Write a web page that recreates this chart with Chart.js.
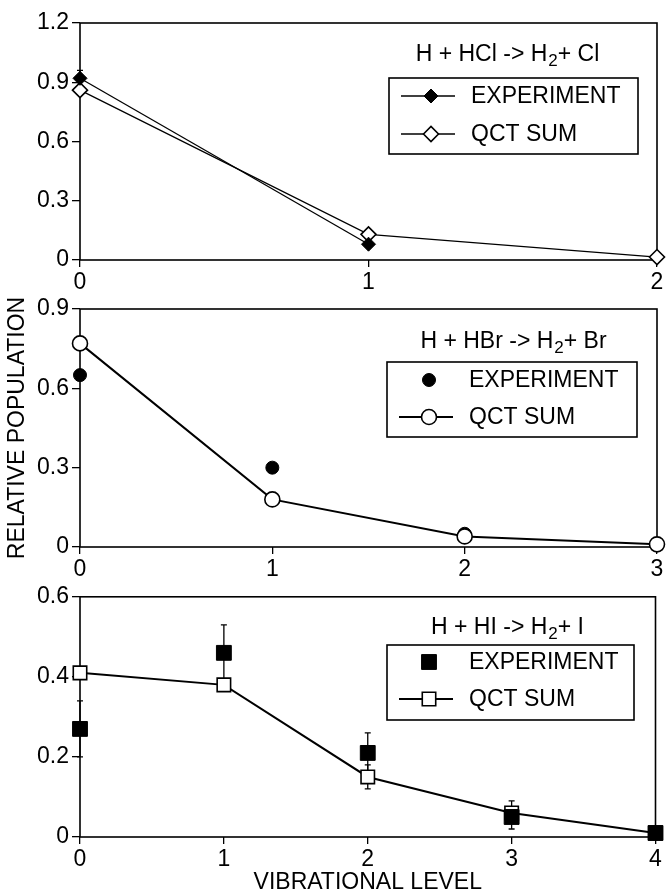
<!DOCTYPE html>
<html><head><meta charset="utf-8">
<script src="https://cdn.jsdelivr.net/npm/chart.js@4.4.1/dist/chart.umd.min.js"></script>
<style>
html,body{margin:0;padding:0;background:#fff;}
#wrap{position:relative;width:667px;height:896px;overflow:hidden;background:#fff;}
canvas{position:absolute;left:0;}
</style></head><body>
<div id="wrap">
<canvas id="c1" width="667" height="300" style="top:0px"></canvas>
<canvas id="c2" width="667" height="300" style="top:290px"></canvas>
<canvas id="c3" width="667" height="316" style="top:580px"></canvas>
</div>
<script>
// ---------- data ----------
const seriesLabels = ['EXPERIMENT', 'QCT SUM'];
const yAxisTitle = 'RELATIVE POPULATION';
const xAxisTitle = 'VIBRATIONAL LEVEL';

// H + HCl -> H2 + Cl
const hclTitle = ['H + HCl -> H', '2', '+ Cl'];
const hclLevels = [0, 1, 2];
const hclExperiment = [0.92, 0.08];
const hclExpLow = [0.88, null];
const hclExpHigh = [0.96, null];
const hclQct = [0.86, 0.13, 0.015];
const hclYTicks = [0, 0.3, 0.6, 0.9, 1.2];
const hclYTickLabels = ['0', '0.3', '0.6', '0.9', '1.2'];

// H + HBr -> H2 + Br
const hbrTitle = ['H + HBr -> H', '2', '+ Br'];
const hbrLevels = [0, 1, 2, 3];
const hbrExperiment = [0.65, 0.30, 0.05, 0.01];
const hbrQct = [0.77, 0.18, 0.04, 0.01];
const hbrYTicks = [0, 0.3, 0.6, 0.9];
const hbrYTickLabels = ['0', '0.3', '0.6', '0.9'];

// H + HI -> H2 + I
const hiTitle = ['H + HI -> H', '2', '+ I'];
const hiLevels = [0, 1, 2, 3, 4];
const hiExperiment = [0.27, 0.46, 0.21, 0.05, 0.01];
const hiExpLow = [0.20, 0.39, 0.16, 0.02, null];
const hiExpHigh = [0.34, 0.53, 0.26, 0.09, null];
const hiQct = [0.41, 0.38, 0.15, 0.06, 0.01];
const hiQctLow = [null, null, 0.12, null, null];
const hiQctHigh = [null, null, 0.18, null, null];
const hiYTicks = [0, 0.2, 0.4, 0.6];
const hiYTickLabels = ['0', '0.2', '0.4', '0.6'];

// ---------- rendering ----------
const FONT = "'Liberation Sans', Arial, Helvetica, sans-serif";
const FS = 23;

const pts = (levels, vals) => vals.map((v, i) => ({x: levels[i], y: v}));

const framePlugin = {
  id: 'frame',
  beforeDatasetsDraw(chart) {
    const {ctx, chartArea: a} = chart;
    ctx.save();
    ctx.strokeStyle = '#000';
    ctx.lineWidth = 1.6;
    ctx.strokeRect(a.left, a.top, a.right - a.left, a.bottom - a.top);
    ctx.restore();
  }
};

const errorBarPlugin = {
  id: 'errorBars',
  beforeDatasetsDraw(chart) {
    const {ctx} = chart;
    const xs = chart.scales.x, ys = chart.scales.y;
    ctx.save();
    ctx.strokeStyle = '#000';
    ctx.lineWidth = 1.3;
    chart.data.datasets.forEach(ds => {
      if (!ds.errLow) return;
      ds.data.forEach((p, i) => {
        const lo = ds.errLow[i], hi = ds.errHigh[i];
        if (lo == null || hi == null) return;
        const px = xs.getPixelForValue(p.x);
        const y1 = ys.getPixelForValue(lo), y2 = ys.getPixelForValue(hi);
        ctx.beginPath();
        ctx.moveTo(px, y1); ctx.lineTo(px, y2);
        ctx.moveTo(px - 3, y1); ctx.lineTo(px + 3, y1);
        ctx.moveTo(px - 3, y2); ctx.lineTo(px + 3, y2);
        ctx.stroke();
      });
    });
    ctx.restore();
  }
};

const legendPlugin = {
  id: 'panelLegend',
  afterDraw(chart, args, o) {
    const ctx = chart.ctx;
    const off = o.offset;
    ctx.save();
    ctx.fillStyle = '#000';
    ctx.strokeStyle = '#000';
    ctx.textBaseline = 'middle';
    ctx.textAlign = 'left';
    const subF = Math.round(FS * 0.74);
    ctx.font = `${FS}px ${FONT}`;
    const w1 = ctx.measureText(o.title[0]).width;
    const w3 = ctx.measureText(o.title[2]).width;
    ctx.font = `${subF}px ${FONT}`;
    const w2 = ctx.measureText(o.title[1]).width;
    let x = o.titleX - (w1 + w2 + w3) / 2;
    const ty = o.titleY - off;
    ctx.font = `${FS}px ${FONT}`;
    ctx.fillText(o.title[0], x, ty); x += w1 + 1;
    ctx.font = `${subF}px ${FONT}`;
    ctx.fillText(o.title[1], x, ty + 6); x += w2;
    ctx.font = `${FS}px ${FONT}`;
    ctx.fillText(o.title[2], x, ty);

    const b = o.box;
    ctx.lineWidth = 1.6;
    ctx.strokeRect(b[0], b[1] - off, b[2] - b[0], b[3] - b[1]);
    chart.data.datasets.forEach((ds, i) => {
      const ry = b[1] - off + o.rows[i];
      const l = b[0];
      ctx.strokeStyle = '#000';
      if (ds.showLine !== false) {
        ctx.lineWidth = ds.borderWidth;
        ctx.beginPath();
        ctx.moveTo(l + 12, ry); ctx.lineTo(l + 66, ry);
        ctx.stroke();
      }
      ctx.fillStyle = ds.pointBackgroundColor;
      ctx.strokeStyle = ds.pointBorderColor;
      ctx.lineWidth = ds.pointBorderWidth;
      Chart.helpers.drawPoint(ctx, {pointStyle: ds.pointStyle, radius: ds.pointRadius, rotation: 0, borderWidth: ds.pointBorderWidth}, l + 42, ry);
      ctx.fillStyle = '#000';
      ctx.font = `${FS}px ${FONT}`;
      ctx.fillText(ds.label, l + 82, ry + 1);
    });
    ctx.restore();
  }
};

function makeChart(id, cfg) {
  const tickFont = {family: FONT, size: FS};
  return new Chart(document.getElementById(id), {
    type: 'line',
    data: {datasets: cfg.datasets},
    options: {
      responsive: false,
      animation: false,
      devicePixelRatio: 1,
      layout: {padding: {top: cfg.padTop, right: 10, left: 0, bottom: 0}},
      plugins: {
        legend: {display: false},
        tooltip: {enabled: false},
        panelLegend: cfg.legend
      },
      scales: {
        x: {
          type: 'linear',
          min: 0, max: cfg.xMax,
          afterBuildTicks: s => { s.ticks = cfg.levels.map(v => ({value: v})); },
          ticks: {color: '#000', font: tickFont, padding: 2, maxRotation: 0, callback: v => String(v)},
          grid: {display: true, drawOnChartArea: false, drawTicks: true, tickLength: 7, color: '#000', lineWidth: 1.3},
          border: {display: false},
          title: cfg.xTitle ? {display: true, text: cfg.xTitle, color: '#000', font: tickFont, padding: {top: 0, bottom: 0}} : {display: false},
          afterFit: s => { s.height = cfg.xAxisH; }
        },
        y: {
          type: 'linear',
          min: 0, max: cfg.yTicks[cfg.yTicks.length - 1],
          afterBuildTicks: s => { s.ticks = cfg.yTicks.map(v => ({value: v})); },
          ticks: {color: '#000', font: tickFont, padding: 3, callback: (v, i) => cfg.yLabels[i]},
          grid: {display: true, drawOnChartArea: false, drawTicks: true, tickLength: 8, color: '#000', lineWidth: 1.3},
          border: {display: false},
          title: cfg.yTitle ? {display: true, text: cfg.yTitle, color: '#000', font: tickFont, padding: {top: 4, bottom: 0}} : {display: false},
          afterFit: s => { s.width = 80; }
        }
      }
    },
    plugins: [framePlugin, errorBarPlugin, legendPlugin]
  });
}

// Panel 1: HCl
makeChart('c1', {
  padTop: 23, xAxisH: 40, xMax: 2, levels: hclLevels,
  yTicks: hclYTicks, yLabels: hclYTickLabels,
  legend: {offset: 0, title: hclTitle, titleX: 507, titleY: 55, box: [389, 78, 638, 154], rows: [18, 56]},
  datasets: [
    {label: seriesLabels[0], data: pts(hclLevels, hclExperiment), errLow: hclExpLow, errHigh: hclExpHigh,
     borderColor: '#000', borderWidth: 1.3, pointStyle: 'rectRot', pointRadius: 7,
     pointBackgroundColor: '#000', pointBorderColor: '#000', pointBorderWidth: 1, clip: false, order: 0},
    {label: seriesLabels[1], data: pts(hclLevels, hclQct),
     borderColor: '#000', borderWidth: 1.3, pointStyle: 'rectRot', pointRadius: 7.5,
     pointBackgroundColor: '#fff', pointBorderColor: '#000', pointBorderWidth: 1.6, clip: false, order: 1}
  ]
});

// Panel 2: HBr
makeChart('c2', {
  padTop: 19, xAxisH: 43, xMax: 3, levels: hbrLevels,
  yTicks: hbrYTicks, yLabels: hbrYTickLabels, yTitle: yAxisTitle,
  legend: {offset: 290, title: hbrTitle, titleX: 513, titleY: 342, box: [387, 362, 637, 437], rows: [18, 55]},
  datasets: [
    {label: seriesLabels[0], data: pts(hbrLevels, hbrExperiment), showLine: false,
     borderColor: '#000', borderWidth: 0, pointStyle: 'circle', pointRadius: 6.5,
     pointBackgroundColor: '#000', pointBorderColor: '#000', pointBorderWidth: 1, clip: false, order: 1},
    {label: seriesLabels[1], data: pts(hbrLevels, hbrQct),
     borderColor: '#000', borderWidth: 2, pointStyle: 'circle', pointRadius: 7.5,
     pointBackgroundColor: '#fff', pointBorderColor: '#000', pointBorderWidth: 1.6, clip: false, order: 0}
  ]
});

// Panel 3: HI
makeChart('c3', {
  padTop: 16, xAxisH: 59, xMax: 4, levels: hiLevels,
  yTicks: hiYTicks, yLabels: hiYTickLabels, xTitle: xAxisTitle,
  legend: {offset: 580, title: hiTitle, titleX: 507, titleY: 628, box: [387, 645, 634, 720], rows: [17, 54]},
  datasets: [
    {label: seriesLabels[0], data: pts(hiLevels, hiExperiment), showLine: false, errLow: hiExpLow, errHigh: hiExpHigh,
     borderColor: '#000', borderWidth: 0, pointStyle: 'rect', pointRadius: 10.5,
     pointBackgroundColor: '#000', pointBorderColor: '#000', pointBorderWidth: 1, clip: false, order: 0},
    {label: seriesLabels[1], data: pts(hiLevels, hiQct), errLow: hiQctLow, errHigh: hiQctHigh,
     borderColor: '#000', borderWidth: 2, pointStyle: 'rect', pointRadius: 9.5,
     pointBackgroundColor: '#fff', pointBorderColor: '#000', pointBorderWidth: 1.6, clip: false, order: 1}
  ]
});
</script>
</body></html>
